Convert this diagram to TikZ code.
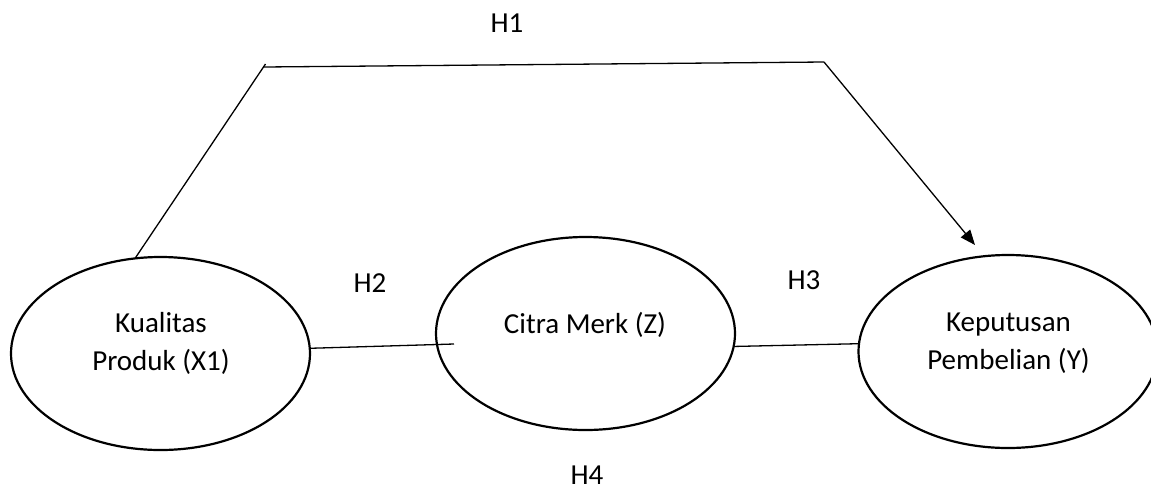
\documentclass[tikz,border=0pt]{standalone}
\usepackage{fontspec}
\setmainfont{Carlito}
\usetikzlibrary{shapes.geometric,arrows.meta}
\tikzset{
  oval/.style={ellipse,draw=black,line width=2.2pt,minimum width=299pt,minimum height=193pt,inner sep=0pt,outer sep=0pt},
  lbl/.style={font=\fontsize{29}{38}\selectfont,inner sep=0pt,anchor=base},
  conn/.style={draw=black,line width=1.3pt},
  hyp/.style={font=\fontsize{29}{38}\selectfont,inner sep=0pt,anchor=base}
}
\begin{document}
\begin{tikzpicture}[x=1pt,y=-1pt]
\useasboundingbox (0,0) rectangle (1151,491);
\clip (0,0) rectangle (1151,491);
% ellipses
\node[oval] (x1) at (160.5,353.5) {};
\node[oval] (z)  at (585.5,333.5) {};
\node[oval] (y)  at (1008,351.5) {};
% texts
\node[lbl] (tx1) at (161,332) {\begin{tabular}[t]{@{}c@{}}Kualitas\\Produk (X1)\end{tabular}};
\node[lbl] (tz) at (585,333) {Citra Merk (Z)};
\node[lbl] (ty) at (1008.5,331) {\begin{tabular}[t]{@{}c@{}}Keputusan\\Pembelian (Y)\end{tabular}};
% hypothesis labels
\node[hyp] (h1) at (507,32) {H1};
\node[hyp] (h2) at (370,292) {H2};
\node[hyp] (h3) at (804,289) {H3};
\node[hyp] (h4) at (587,484) {H4};
% connector coordinates
\coordinate (c1) at (265.5,64);
\coordinate (c1b) at (264,67);
\coordinate (c2) at (824,62);
\coordinate (tip) at (975,245);
\coordinate (h2end) at (454,344);
% connectors
\draw[conn] (x1.105.5) -- (c1);
\draw[conn] (c1b) -- (c2);
\draw[conn,-{Triangle[length=15pt,width=12pt]}] (c2) -- (tip);
\draw[conn] (x1.2.5) -- (h2end);
\draw[conn] (z.-5.2) -- (y.177);
\end{tikzpicture}
\end{document}
